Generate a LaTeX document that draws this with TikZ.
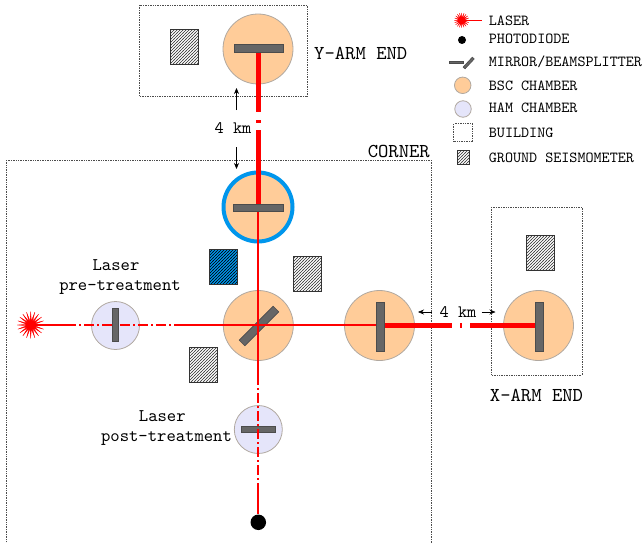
\documentclass[tikz,border=0pt]{standalone}
\usepackage{fontspec}
\setmonofont{lmmono10-regular.otf}
\usetikzlibrary{patterns,shapes.geometric,arrows.meta}
\definecolor{bscfill}{HTML}{FFCC99}
\definecolor{hamfill}{HTML}{E5E5FA}
\definecolor{rimcol}{HTML}{B0A8A0}
\definecolor{mircol}{HTML}{666666}
\definecolor{ringblue}{HTML}{0096EC}
\definecolor{hatchcol}{HTML}{333333}
\pgfdeclarepatternformonly{finehatch}{\pgfqpoint{-0.5pt}{-0.5pt}}{\pgfqpoint{3.5pt}{3.5pt}}{\pgfqpoint{3pt}{3pt}}{%
  \pgfsetlinewidth{0.55pt}%
  \pgfpathmoveto{\pgfqpoint{-0.5pt}{-0.5pt}}%
  \pgfpathlineto{\pgfqpoint{3.5pt}{3.5pt}}%
  \pgfusepath{stroke}}
\tikzset{
  x=1pt,y=-1pt,
  bsc/.style={circle,draw=rimcol,fill=bscfill,line width=0.8pt,minimum size=70pt,inner sep=0pt},
  ham/.style={circle,draw=rimcol,fill=hamfill,line width=0.8pt,minimum size=48pt,inner sep=0pt},
  mirrorbar/.style={rectangle,draw=black!70,fill=mircol,line width=0.6pt,inner sep=0pt},
  seis/.style={rectangle,draw=black!80,line width=0.8pt,pattern=finehatch,pattern color=hatchcol,minimum width=28pt,minimum height=35pt,inner sep=0pt},
  bldg/.style={draw=black!70,densely dotted,line width=0.7pt},
  thinbeam/.style={red,line width=1.8pt},
  thickbeam/.style={red,line width=5pt},
  dashbeam/.style={red,line width=1.8pt,dash pattern=on 10pt off 3pt on 2pt off 3pt},
  labtxt/.style={font=\ttfamily\fontsize{15.35}{18}\selectfont,inner sep=0pt},
  bigtxt/.style={font=\ttfamily\fontsize{17.8}{20}\selectfont,inner sep=0pt},
  armtxt/.style={font=\ttfamily\fontsize{19.7}{22}\selectfont,inner sep=0pt},
  kmtxt/.style={font=\ttfamily\fontsize{17.5}{20}\selectfont,inner sep=0pt},
  gaparrow/.style={black,line width=0.6pt,-{Stealth[length=6pt,width=5pt]}},
  laserburst/.style={star,star points=20,star point ratio=3.4,fill=red,draw=red,line width=0.3pt,inner sep=0pt,minimum size=27pt},
  legendtxt/.style={labtxt,anchor=west},
}
\begin{document}
\begin{tikzpicture}
\useasboundingbox (0,0) rectangle (642,543);
\clip (0,0) rectangle (642,543);

% buildings
\draw[bldg] (139,5) rectangle (307,96);
\draw[bldg] (6,160) rectangle (431,570);
\draw[bldg] (491.7,207) rectangle (582,375);

% seismometers
\node[seis] (sy) at (184.7,47) {};
\node[seis] (sx) at (540.2,253) {};
\node[seis] (sr) at (307.7,274) {};
\node[seis] (sl) at (203.2,365) {};
\node[rectangle,draw=black!80,fill=ringblue,line width=0.8pt,minimum width=28pt,minimum height=35pt,inner sep=0pt] (sbbg) at (223.7,267) {};
\node[seis,pattern color=black] (sb) at (223.7,267) {};

% chambers
\node[bsc] (yend) at (258,49) {};
\node[bsc,draw=ringblue,line width=4pt,minimum size=69pt] (yin) at (258,207) {};
\node[bsc] (bs) at (258.3,325.5) {};
\node[bsc] (xin) at (379.5,325.5) {};
\node[bsc] (xend) at (538.5,325.5) {};
\node[ham] (pre) at (115.5,325.5) {};
\node[ham] (post) at (258.3,429.5) {};

% optics under the beams
\node[mirrorbar,minimum width=48pt,minimum height=8pt,rotate=45] (bsm) at (259,326) {};
\node[mirrorbar,minimum width=34pt,minimum height=5.5pt] (postm) at (258.3,429.3) {};

% free ends
\coordinate (yb1) at (258,112);
\coordinate (yd1) at (258,120);
\coordinate (yd2) at (258,122.5);
\coordinate (yb2) at (258,130);
\coordinate (xb1) at (452,325.5);
\coordinate (xd1) at (460.2,325.5);
\coordinate (xd2) at (462.2,325.5);
\coordinate (xb2) at (470,325.5);
\coordinate (l1) at (66,325);
\coordinate (l2) at (178,325);
\coordinate (v0) at (258.3,207);
\coordinate (v1) at (258.3,375);
\coordinate (v2) at (258.3,483);

% laser and photodiode
\node[laserburst] (laser) at (30.7,325) {};
\node[circle,fill=black,minimum size=15.5pt,inner sep=0pt] (pd) at (258.3,522.3) {};

% beams
\draw[thinbeam] (laser.center) -- (l1);
\draw[dashbeam] (l1) -- (l2);
\draw[thinbeam] (l2) -- (l2 -| xin.center);
\draw[thinbeam] (v0) -- (v1);
\draw[dashbeam] (v1) -- (v2);
\draw[thinbeam] (v2) -- (pd);
\draw[thickbeam] (yend.center) -- (yb1);
\draw[thickbeam] (yb2) -- (yin.center);
\draw[red,line width=5pt] (yd1) -- (yd2);
\draw[thickbeam] (xin.center) -- (xb1);
\draw[red,line width=5pt] (xd1) -- (xd2);
\draw[thickbeam] (xb2) -- (xend.center);

% optics over the beams
\node[mirrorbar,minimum width=49pt,minimum height=8pt] (yendm) at (258.5,48.5) {};
\node[mirrorbar,minimum width=50pt,minimum height=7.5pt] (yinm) at (258,208) {};
\node[mirrorbar,minimum width=8pt,minimum height=49.5pt] (xinm) at (380.3,327) {};
\node[mirrorbar,minimum width=8pt,minimum height=49.5pt] (xendm) at (539,327) {};
\node[mirrorbar,minimum width=5.5pt,minimum height=33.5pt] (prem) at (115.5,325) {};

% distance marks
\node[kmtxt] (ky) at (233,128) {4 km};
\coordinate (kya) at (236.5,110);
\coordinate (kyb) at (236.5,88);
\coordinate (kyc) at (236.5,147);
\coordinate (kyd) at (236.5,169);
\draw[gaparrow] (kya) -- (kyb);
\draw[gaparrow] (kyc) -- (kyd);
\node[kmtxt] (kx) at (458,312) {4 km};
\coordinate (kxa) at (431.7,312);
\coordinate (kxb) at (418,312);
\coordinate (kxc) at (481.7,312);
\coordinate (kxd) at (495.5,312);
\draw[gaparrow] (kxa) -- (kxb);
\draw[gaparrow] (kxc) -- (kxd);

% labels
\node[armtxt,anchor=west] (ylab) at (314,53) {Y-ARM END};
\node[armtxt,anchor=east] (clab) at (430,151.5) {CORNER};
\node[armtxt] (xlab) at (536.5,395) {X-ARM END};
\node[bigtxt] (pa) at (116,265) {Laser};
\node[bigtxt] (pb) at (120,288) {pre-treatment};
\node[bigtxt] (qa) at (162.3,416) {Laser};
\node[bigtxt] (qb) at (166.5,439) {post-treatment};

% legend
\node[laserburst,minimum size=15pt] (lgl) at (461.7,20.3) {};
\coordinate (lgle) at (481.7,20.3);
\draw[red,line width=0.8pt] (lgl.center) -- (lgle);
\node[circle,fill=black,minimum size=8pt,inner sep=0pt] (lgp) at (462,40) {};
\node[mirrorbar,minimum width=14.5pt,minimum height=2.6pt] (lgm1) at (456.5,62.3) {};
\node[mirrorbar,minimum width=13.5pt,minimum height=2.6pt,rotate=47] (lgm2) at (468.7,63) {};
\node[bsc,minimum size=16.5pt] (lgb) at (462.7,85.3) {};
\node[ham,minimum size=16.5pt] (lgh) at (463,109) {};
\node[rectangle,bldg,minimum width=19pt,minimum height=18pt,inner sep=0pt] (lgd) at (463.2,132.7) {};
\node[seis,minimum width=12pt,minimum height=14pt] (lgs) at (463.3,157.7) {};
\node[legendtxt] (t1) at (488.7,20.5) {LASER};
\node[legendtxt] (t2) at (488.7,39) {PHOTODIODE};
\node[legendtxt] (t3) at (488.7,61.5) {MIRROR/BEAMSPLITTER};
\node[legendtxt] (t4) at (488.7,86) {BSC CHAMBER};
\node[legendtxt] (t5) at (488.7,108) {HAM CHAMBER};
\node[legendtxt] (t6) at (488.7,133) {BUILDING};
\node[legendtxt] (t7) at (488.7,158) {GROUND SEISMOMETER};
\end{tikzpicture}
\end{document}
